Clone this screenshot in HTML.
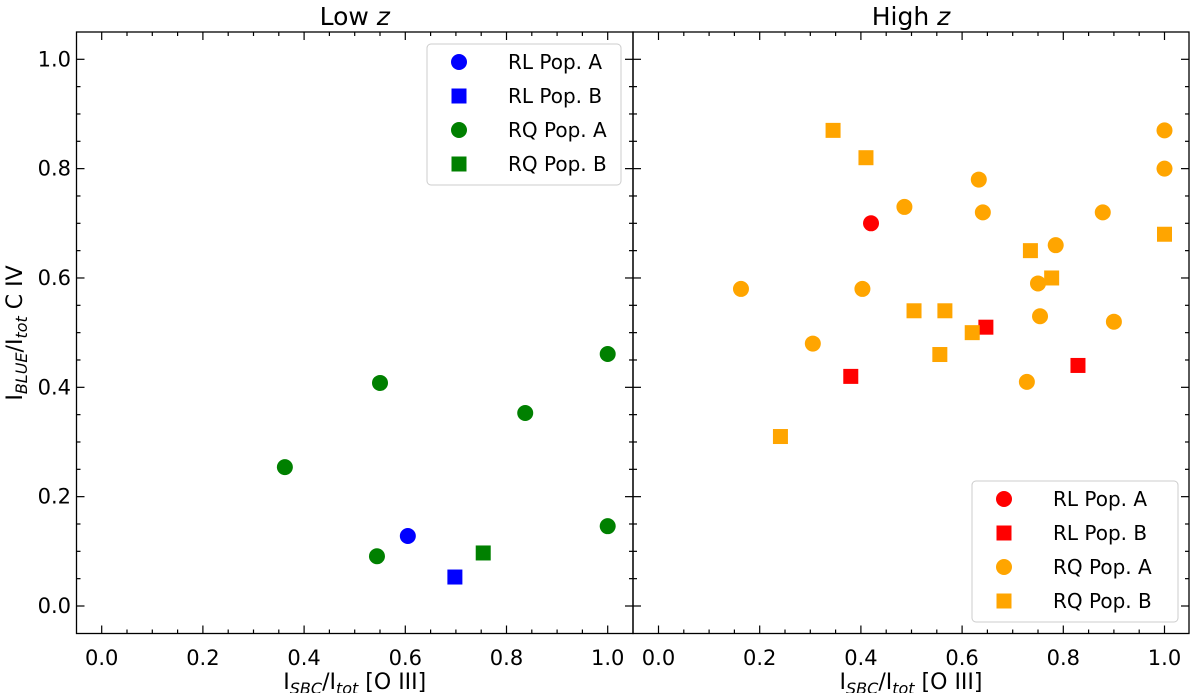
<!DOCTYPE html>
<html><head><meta charset="utf-8"><style>body{margin:0;background:#fff}svg{display:block;font-family:"DejaVu Sans","Liberation Sans",sans-serif}</style></head>
<body>
<svg id="chart" width="1200" height="693" viewBox="0 0 1200 693"></svg>
<script>
// Low z data
const lowRLAx=[0.605], lowRLAy=[0.128];
const lowRLBx=[0.698], lowRLBy=[0.053];
const lowRQAx=[0.362,0.544,0.55,0.837,1.0,1.0], lowRQAy=[0.254,0.091,0.408,0.353,0.461,0.146];
const lowRQBx=[0.754], lowRQBy=[0.097];
// High z data
const hiRLAx=[0.42], hiRLAy=[0.70];
const hiRLBx=[0.38,0.647,0.829], hiRLBy=[0.42,0.51,0.44];
const hiRQAx=[0.163,0.305,0.403,0.486,0.633,0.641,0.785,0.75,0.754,0.728,0.9,0.878,1.0,1.0];
const hiRQAy=[0.58,0.48,0.58,0.73,0.78,0.72,0.66,0.59,0.53,0.41,0.52,0.72,0.87,0.80];
const hiRQBx=[0.241,0.345,0.41,0.505,0.566,0.556,0.62,0.735,0.777,1.0];
const hiRQBy=[0.31,0.87,0.82,0.54,0.54,0.46,0.50,0.65,0.60,0.68];
const tickVals=[0,0.2,0.4,0.6,0.8,1.0];
const tickLabels=["0.0","0.2","0.4","0.6","0.8","1.0"];
const legendLabels=["RL Pop. A","RL Pop. B","RQ Pop. A","RQ Pop. B"];

const NS="http://www.w3.org/2000/svg";
const svg=document.getElementById('chart');
function mk(t,a,p){const e=document.createElementNS(NS,t);for(const k in a)e.setAttribute(k,a[k]);(p||svg).appendChild(e);return e;}
const yS=v=>606-v*546.7;
function panel(name,left,right,x0,title,series,legendPos){
  const g=mk('g',{});
  
  
  const xS=v=>x0+v*506;
  const top=32,bot=633.5;
  for(let i=-1;i<=21;i++){const v=i*0.05;const maj=Math.abs(v*5-Math.round(v*5))<1e-6;const L=maj?8:4;
    const x=xS(v);if(x>left+0.5&&x<right-0.5){mk('line',{x1:x,x2:x,y1:bot,y2:bot-L,stroke:'#000','stroke-width':1.2},g);mk('line',{x1:x,x2:x,y1:top,y2:top+L,stroke:'#000','stroke-width':1.2},g);}
    const y=yS(v);if(y>top+0.5&&y<bot-0.5){mk('line',{x1:left,x2:left+L,y1:y,y2:y,stroke:'#000','stroke-width':1.2},g);mk('line',{x1:right,x2:right-L,y1:y,y2:y,stroke:'#000','stroke-width':1.2},g);}
  }
  tickVals.forEach((v,i)=>{const t=mk('text',{x:xS(v),y:665,'text-anchor':'middle','font-size':21},g);t.textContent=tickLabels[i];
    
    
    if(name==='low-z-panel'){const ty=mk('text',{x:71,y:yS(v)+7,'text-anchor':'end','font-size':21},g);ty.textContent=tickLabels[i];
      
      }
  });
  const xt=mk('text',{x:(left+right)/2,y:689,'text-anchor':'middle','font-size':22},g);
  xt.innerHTML='I<tspan font-size="16" font-style="italic" dy="5">SBC</tspan><tspan dy="-5">/I</tspan><tspan font-size="16" font-style="italic" dy="5">tot</tspan><tspan dy="-5"> [O III]</tspan>';
  
  
  const tt=mk('text',{x:(left+right)/2,y:25,'text-anchor':'middle','font-size':25},g);
  tt.innerHTML=title+' <tspan font-style="italic">z</tspan>';
  
  
  series.forEach(s=>{s.x.forEach((xv,i)=>{const cx=xS(xv),cy=yS(s.y[i]);let m;
    if(s.shape==='c')m=mk('circle',{cx:cx,cy:cy,r:8,fill:s.color},g);
    else m=mk('rect',{x:cx-7.5,y:cy-7.5,width:15,height:15,fill:s.color},g);
    
    });});
  mk('rect',{x:left,y:top,width:right-left,height:bot-top,fill:'none',stroke:'#000','stroke-width':1.3},g);
  const lg=mk('g',{},g);
  
  
  mk('rect',{x:legendPos[0],y:legendPos[1],width:legendPos[2],height:141,rx:4,fill:'#fff','fill-opacity':0.85,stroke:'#ccc','stroke-width':1},lg);
  series.forEach((s,i)=>{const cy=legendPos[1]+18+i*34,cx=legendPos[0]+32;
    if(s.shape==='c')mk('circle',{cx:cx,cy:cy,r:8,fill:s.color},lg);else mk('rect',{x:cx-7.5,y:cy-7.5,width:15,height:15,fill:s.color},lg);
    const t=mk('text',{x:legendPos[0]+81,y:cy+7,'font-size':20},lg);t.textContent=legendLabels[i];
    
    });
}
panel('low-z-panel',76.5,633,101.7,'Low',[
 {key:'rl-pop-a',x:lowRLAx,y:lowRLAy,color:'#0000ff',shape:'c'},
 {key:'rl-pop-b',x:lowRLBx,y:lowRLBy,color:'#0000ff',shape:'s'},
 {key:'rq-pop-a',x:lowRQAx,y:lowRQAy,color:'#008000',shape:'c'},
 {key:'rq-pop-b',x:lowRQBx,y:lowRQBy,color:'#008000',shape:'s'}],[427,44,194]);
panel('high-z-panel',633,1189,658.5,'High',[
 {key:'rl-pop-a',x:hiRLAx,y:hiRLAy,color:'#ff0000',shape:'c'},
 {key:'rl-pop-b',x:hiRLBx,y:hiRLBy,color:'#ff0000',shape:'s'},
 {key:'rq-pop-a',x:hiRQAx,y:hiRQAy,color:'#ffa500',shape:'c'},
 {key:'rq-pop-b',x:hiRQBx,y:hiRQBy,color:'#ffa500',shape:'s'}],[972,481,206]);
const yt=mk('text',{transform:'translate(22,333) rotate(-90)','text-anchor':'middle','font-size':22});
yt.innerHTML='I<tspan font-size="16" font-style="italic" dy="5">BLUE</tspan><tspan dy="-5">/I</tspan><tspan font-size="16" font-style="italic" dy="5">tot</tspan><tspan dy="-5"> C IV</tspan>';


</script>
</body></html>
